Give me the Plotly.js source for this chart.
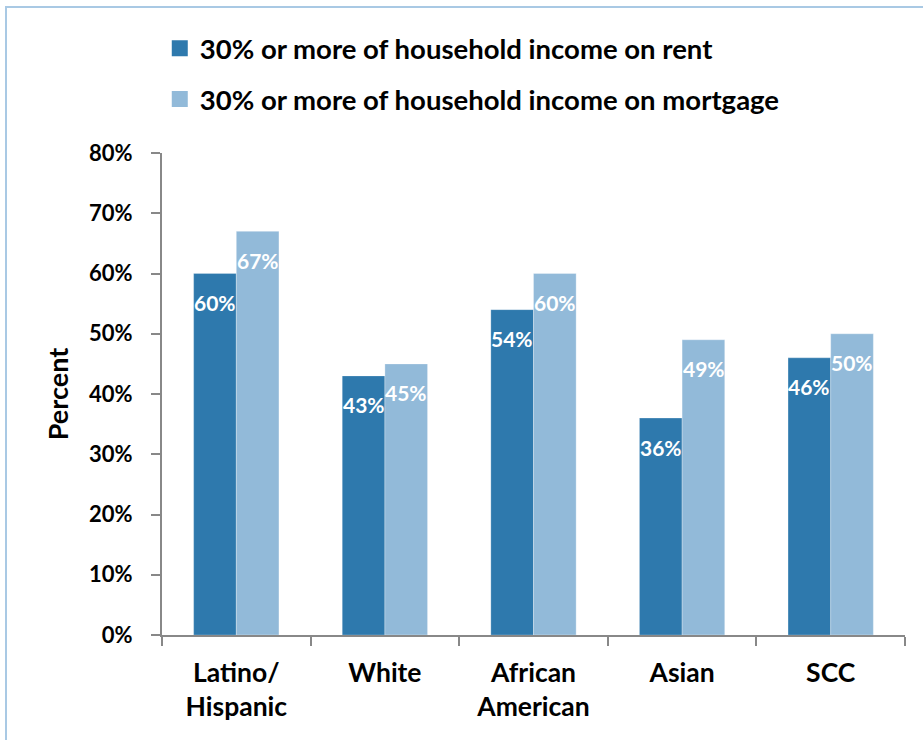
<!DOCTYPE html>
<html>
<head>
<meta charset="utf-8">
<script src="https://cdn.plot.ly/plotly-3.0.1.min.js"></script>
<style>
  html, body { margin: 0; padding: 0; overflow: hidden; background: #fff; }
  #chart { width: 923px; height: 740px; position: absolute; left: 0; top: 0; }
  #frame { position: absolute; left: 5px; top: 6px; width: 1000px; height: 1000px;
           border: 2px solid #A9C9E4; pointer-events: none; }
</style>
</head>
<body>
<div id="chart"></div>
<div id="frame"></div>
<script>
const categories = ["Latino/<br>Hispanic", "White", "African<br>American", "Asian", "SCC"];
const rentValues = [60, 43, 54, 36, 46];
const mortgageValues = [67, 45, 60, 49, 50];
const seriesNames = ["30% or more of household income on rent", "30% or more of household income on mortgage"];
const yTickValues = [0, 10, 20, 30, 40, 50, 60, 70, 80];
const yTickLabels = ["0%", "10%", "20%", "30%", "40%", "50%", "60%", "70%", "80%"];

const darkBlue = "#2E79AD";
const lightBlue = "#92BAD9";
const FONT = "Lato, 'Open Sans', sans-serif";

const traces = [
  { type: "bar", x: categories, y: rentValues, name: seriesNames[0], showlegend: false,
    marker: { color: darkBlue, line: { color: "rgba(255,255,255,0.4)", width: 0.6 } }, hoverinfo: "y" },
  { type: "bar", x: categories, y: mortgageValues, name: seriesNames[1], showlegend: false,
    marker: { color: lightBlue, line: { color: "rgba(255,255,255,0.5)", width: 0.6 } }, hoverinfo: "y" },
  { type: "scatter", mode: "markers", x: [null], y: [null], name: seriesNames[0], legendgroup: "a",
    marker: { symbol: "square", size: 16, color: darkBlue } },
  { type: "scatter", mode: "markers", x: [null], y: [null], name: seriesNames[1], legendgroup: "b",
    marker: { symbol: "square", size: 16, color: lightBlue } }
];

const annotations = [];
const series = [rentValues, mortgageValues];
series.forEach((vals, s) => {
  vals.forEach((v, i) => {
    annotations.push({
      x: categories[i], y: v, xref: "x", yref: "y",
      xshift: s === 0 ? -21.4 : 21.4, yshift: -29,
      text: v + "%", showarrow: false, yanchor: "middle", xanchor: "center",
      font: { family: FONT, size: 21, color: "#ffffff", weight: 700 }
    });
  });
});

const layout = {
  width: 923, height: 740,
  margin: { l: 162, r: 18, t: 153, b: 105 },
  paper_bgcolor: "#ffffff", plot_bgcolor: "#ffffff",
  font: { family: FONT, color: "#000000", weight: 700 },
  barmode: "group", bargap: 0.426, bargroupgap: 0,
  showlegend: true,
  legend: {
    x: -0.003, xanchor: "left", y: 1.268, yanchor: "top",
    traceorder: "grouped", tracegroupgap: 12,
    font: { family: FONT, size: 27.5, color: "#000000", weight: 700 },
    bgcolor: "rgba(0,0,0,0)", itemclick: false
  },
  xaxis: {
    type: "category", tickson: "boundaries", ticks: "outside", ticklen: 9, tickwidth: 2,
    tickcolor: "#888888", showline: true, linecolor: "#888888", linewidth: 2,
    showgrid: false, zeroline: false, ticklabelstandoff: 13,
    tickfont: { family: FONT, size: 26.5, color: "#000000", weight: 700 }
  },
  yaxis: {
    range: [0, 80], tickmode: "array", tickvals: yTickValues, ticktext: yTickLabels,
    ticks: "outside", ticklen: 9, tickwidth: 2,
    tickcolor: "#888888", showline: true, linecolor: "#888888", linewidth: 2,
    showgrid: false, zeroline: false, ticklabelstandoff: 14,
    tickfont: { family: FONT, size: 22, color: "#000000", weight: 700 },
    title: { text: "Percent", standoff: 13, font: { family: FONT, size: 27, color: "#000000", weight: 700 } }
  },
  annotations: annotations
};

Plotly.newPlot("chart", traces, layout, { displayModeBar: false, staticPlot: true });
</script>
</body>
</html>
